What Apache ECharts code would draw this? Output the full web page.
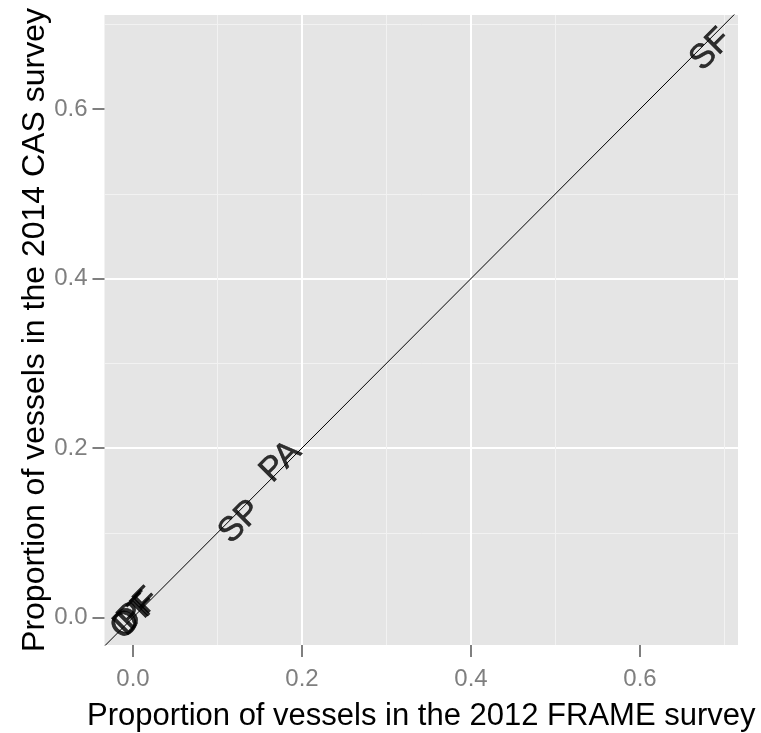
<!DOCTYPE html>
<html>
<head>
<meta charset="utf-8">
<script src="https://cdn.jsdelivr.net/npm/echarts@6/dist/echarts.min.js"></script>
<style>
html,body{margin:0;padding:0;background:#fff;}
#chart{width:761px;height:733px;}
</style>
</head>
<body>
<div id="chart"></div>
<script>
// Data
const labels = ["OT", "DF", "PF", "SP", "PA", "SF"];
const frame2012 = [0.000, 0.003, 0.007, 0.127, 0.175, 0.684];
const cas2014   = [0.000, 0.004, 0.010, 0.113, 0.184, 0.670];
const tickValues = [0, 0.2, 0.4, 0.6];
const tickLabels = ["0.0", "0.2", "0.4", "0.6"];
const identityLine = [[-0.1, -0.1], [0.8, 0.8]];

const FONT = "Liberation Sans";
const points = labels.map((n, i) => ({ name: n, value: [frame2012[i], cas2014[i]] }));

function fmt(v) {
  const i = tickValues.findIndex(t => Math.abs(t - v) < 1e-9);
  return i >= 0 ? tickLabels[i] : "";
}

function axisCommon(name, nameGap, labelMargin, rotate, nameSize) {
  return {
    type: "value",
    name: name,
    nameLocation: "middle",
    nameGap: nameGap,
    nameRotate: rotate,
    nameMoveOverlap: false,
    nameTextStyle: { fontFamily: FONT, fontSize: nameSize, color: "#000" },
    splitNumber: 4,
    axisLine: { show: false, onZero: false },
    axisTick: { show: true, length: 12, customValues: tickValues,
                lineStyle: { color: "#7f7f7f", width: 2 } },
    axisLabel: { show: true, customValues: tickValues, formatter: fmt, margin: labelMargin,
                 fontFamily: FONT, fontSize: 24, color: "#7f7f7f" },
    splitLine: { show: true, showMinLine: false, showMaxLine: false,
                 lineStyle: { color: "#ffffff", width: 2 } },
    minorTick: { show: false, splitNumber: 2 },
    minorSplitLine: { show: true, lineStyle: { color: "#f2f2f2", width: 1 } }
  };
}

const chart = echarts.init(document.getElementById("chart"), null, { renderer: "canvas" });
const xAxis = axisCommon("Proportion of vessels in the 2012 FRAME survey", 56, 22, 0, 31);
xAxis.min = -0.0337; xAxis.max = 0.716;
const yAxis = axisCommon("Proportion of vessels in the 2014 CAS survey", 53, 17, 90, 32);
yAxis.min = -0.0324; yAxis.max = 0.711;

chart.setOption({
  backgroundColor: "#ffffff",
  animation: false,
  grid: { left: 104.5, right: 23, top: 15, bottom: 88, show: true,
          backgroundColor: "#e5e5e5", borderWidth: 0, containLabel: false,
          outerBoundsMode: "none" },
  xAxis: xAxis,
  yAxis: yAxis,
  series: [
    {
      type: "line",
      data: identityLine,
      symbol: "none",
      clip: true,
      lineStyle: { color: "#000", width: 1 },
      silent: true,
      z: 2
    },
    {
      type: "scatter",
      data: points,
      symbolSize: 2,
      itemStyle: { color: "rgba(0,0,0,0)" },
      label: {
        show: true,
        formatter: p => p.name,
        position: "inside",
        rotate: 45,
        align: "center",
        verticalAlign: "middle",
        fontFamily: FONT,
        fontSize: 34,
        color: "#000",
        textBorderColor: "#000",
        textBorderWidth: 0.6
      },
      labelLayout: { hideOverlap: false },
      z: 3
    }
  ]
});
</script>
</body>
</html>
